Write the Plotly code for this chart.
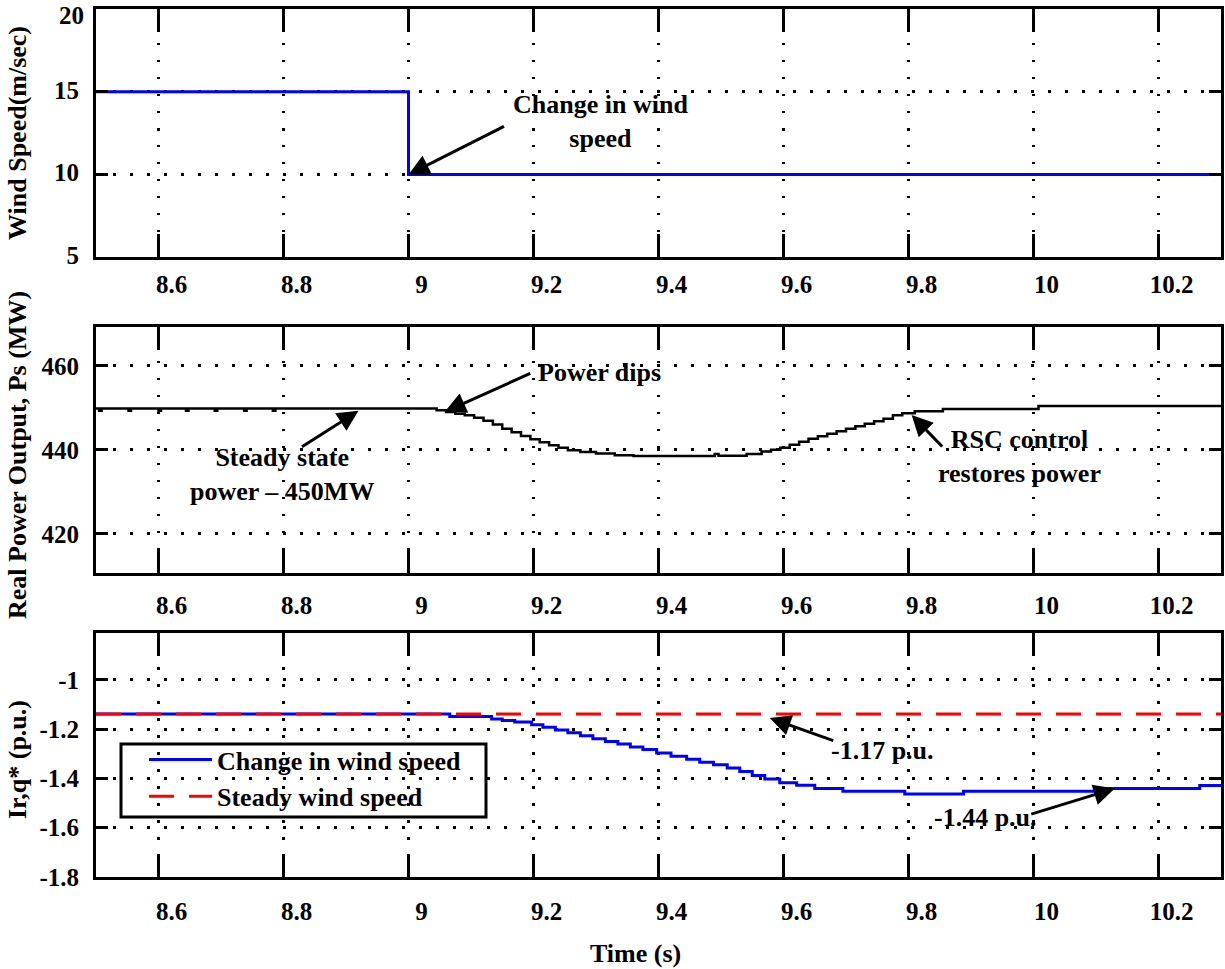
import plotly.graph_objects as go

# ---------------- data ----------------
wind_t = [8.5, 9.0, 9.0, 10.3]
wind_v = [15, 15, 10, 10]

power_t = [8.500, 8.505, 8.509, 8.549, 8.552, 8.556, 8.597, 8.600, 8.604, 8.641, 8.644, 8.648,
           8.687, 8.690, 8.694, 8.734, 8.737, 8.741, 8.780, 8.783, 8.787,
           9.045, 9.060, 9.075, 9.090, 9.105, 9.120, 9.135, 9.150, 9.165, 9.180, 9.195,
           9.210, 9.225, 9.240, 9.255, 9.275, 9.300, 9.330, 9.360, 9.490, 9.496,
           9.541, 9.565, 9.580, 9.595, 9.610, 9.625, 9.640, 9.655, 9.670, 9.685, 9.700,
           9.715, 9.730, 9.745, 9.760, 9.775, 9.790, 9.810, 9.855, 10.008, 10.300]
power_v = [449.8, 449.3, 449.8, 449.8, 449.3, 449.8, 449.8, 449.3, 449.8, 449.8, 449.3, 449.8,
           449.8, 449.3, 449.8, 449.8, 449.3, 449.8, 449.8, 449.3, 449.8,
           449.4, 449.0, 448.6, 448.2, 447.6, 446.9, 446.0, 445.0, 444.2, 443.3, 442.5,
           441.8, 441.1, 440.5, 439.9, 439.5, 439.1, 438.7, 438.5, 439.0, 438.6,
           439.0, 439.6, 440.0, 440.5, 441.2, 441.9, 442.6, 443.2, 443.8, 444.4, 445.0,
           445.6, 446.2, 446.8, 447.4, 448.2, 448.7, 449.2, 449.7, 450.4, 450.4]

irq_t = [8.500, 9.066, 9.133, 9.150, 9.170, 9.197, 9.215, 9.235, 9.255, 9.275, 9.295, 9.315,
         9.335, 9.355, 9.375, 9.397, 9.420, 9.445, 9.466, 9.488, 9.510, 9.530, 9.550,
         9.570, 9.594, 9.621, 9.650, 9.695, 9.794, 9.888, 10.111, 10.266, 10.300]
irq_change = [-1.138, -1.149, -1.159, -1.165, -1.171, -1.182, -1.192, -1.203, -1.215, -1.227,
              -1.239, -1.250, -1.260, -1.272, -1.283, -1.297, -1.310, -1.322, -1.334, -1.344,
              -1.358, -1.372, -1.388, -1.402, -1.418, -1.428, -1.441, -1.452, -1.463, -1.452,
              -1.441, -1.429, -1.429]
steady_t = [8.5, 10.3]
irq_steady = [-1.138, -1.138]

x_ticks = [8.6, 8.8, 9.0, 9.2, 9.4, 9.6, 9.8, 10.0, 10.2]
x_labels = ["8.6", "8.8", "9", "9.2", "9.4", "9.6", "9.8", "10", "10.2"]
y1_ticks = [5, 10, 15, 20]
y1_labels = ["5", "10", "15", "20"]
y2_ticks = [420, 440, 460]
y2_labels = ["420", "440", "460"]
y3_ticks = [-1.8, -1.6, -1.4, -1.2, -1.0]
y3_labels = ["-1.8", "-1.6", "-1.4", "-1.2", "-1"]

# ---------------- layout helpers ----------------
W, H = 1225, 969
ML, MR, MT, MB = 96, 4, 9, 92
PW, PH = W - ML - MR, H - MT - MB


def px(x):
    return (x - ML) / PW


def py(y):
    return (H - MB - y) / PH


FONT = "Liberation Serif"
TF = dict(family=FONT, size=25, color="black", weight="bold")
AF = dict(family=FONT, size=26, color="black", weight="bold")

fig = go.Figure()
fig.add_trace(go.Scatter(x=wind_t, y=wind_v, mode="lines", line=dict(color="#0000FF", width=3),
                         xaxis="x", yaxis="y", showlegend=False))
fig.add_trace(go.Scatter(x=power_t, y=power_v, mode="lines", line=dict(color="black", width=2.5, shape="hv"),
                         xaxis="x2", yaxis="y2", showlegend=False))
fig.add_trace(go.Scatter(x=irq_t, y=irq_change, mode="lines", name="Change in wind speed",
                         line=dict(color="#0000FF", width=3, shape="hv"), xaxis="x3", yaxis="y3"))
fig.add_trace(go.Scatter(x=steady_t, y=irq_steady, mode="lines", name="Steady wind speed",
                         line=dict(color="#FF0000", width=3, dash="25px,15px"), xaxis="x3", yaxis="y3"))


def xax(anchor, standoff):
    return dict(anchor=anchor, range=[8.5, 10.3], tickvals=x_ticks, ticktext=x_labels,
                ticks="inside", ticklen=23, tickwidth=3, tickcolor="black",
                showline=True, linewidth=3, linecolor="black", mirror="ticks",
                showgrid=True, gridcolor="black", gridwidth=2.5, griddash="2.5px,14.5px",
                zeroline=False, tickfont=TF, ticklabelshift=13, ticklabelstandoff=standoff,
                ticklabeloverflow="allow", automargin=False)


def yax(anchor, dom, rng, tv, tt, shift=0):
    return dict(anchor=anchor, domain=dom, range=rng, tickvals=tv, ticktext=tt,
                ticks="inside", ticklen=12, tickwidth=3, tickcolor="black",
                showline=True, linewidth=3, linecolor="black", mirror="ticks",
                showgrid=True, gridcolor="black", gridwidth=2.5, griddash="2.5px,14.5px",
                zeroline=False, tickfont=TF, ticklabelstandoff=9, ticklabeloverflow="allow",
                ticklabelshift=shift, automargin=False)


annotations = []
# y-axis titles
for txt, yc in [("Wind Speed(m/sec)", 133), ("Real Power Output, Ps (MW)", 455), ("Ir,q* (p.u.)", 760)]:
    annotations.append(dict(text=txt, xref="paper", yref="paper", x=px(17), y=py(yc), textangle=-90,
                            showarrow=False, font=AF, xanchor="center", yanchor="middle"))
annotations.append(dict(text="Time (s)", xref="paper", yref="paper", x=px(635), y=py(953),
                        showarrow=False, font=AF, xanchor="center", yanchor="middle"))

# top tick label of the upper panel, kept inside the page
annotations.append(dict(text=y1_labels[-1], xref="paper", yref="paper", x=0, y=py(0), xshift=-10,
                        xanchor="right", yanchor="top", showarrow=False, font=TF))

# text annotations
for txt, xc, yc in [("Change in wind<br>speed", 600, 122),
                    ("Power dips", 599, 373),
                    ("Steady state<br>power – 450MW", 282, 474),
                    ("RSC control<br>restores power", 1019, 456),
                    ("-1.17 p.u.", 882, 750),
                    ("-1.44 p.u.", 985, 817)]:
    annotations.append(dict(text=txt, xref="paper", yref="paper", x=px(xc), y=py(yc),
                            showarrow=False, font=AF, xanchor="center", yanchor="middle"))

# arrows (head in data coords, tail as pixel offsets)
for xr, yr, hx, hy, ax, ay in [("x", "y", 9.0, 10.0, 97, -49),
                               ("x2", "y2", 9.058, 449.05, 87, -39),
                               ("x2", "y2", 8.92, 449.3, -58, 37),
                               ("x2", "y2", 9.805, 448.3, 32, 33),
                               ("x3", "y3", 9.578, -1.155, 65, 23),
                               ("x3", "y3", 10.13, -1.441, -85, 26)]:
    annotations.append(dict(text="", xref=xr, yref=yr, x=hx, y=hy, ax=ax, ay=ay,
                            showarrow=True, arrowhead=2, arrowsize=1.4, arrowwidth=3,
                            arrowcolor="black"))

# legend frame
shapes = [dict(type="rect", xref="paper", yref="paper", x0=px(121), x1=px(486), y0=py(817), y1=py(744),
               line=dict(color="black", width=3), fillcolor="rgba(0,0,0,0)")]

y1_text = y1_labels[:-1] + [""]

fig.update_layout(
    width=W, height=H,
    margin=dict(l=ML, r=MR, t=MT, b=MB, autoexpand=False),
    paper_bgcolor="white", plot_bgcolor="white",
    font=dict(family=FONT, color="black"),
    xaxis=xax("y", 3), xaxis2=xax("y2", 8), xaxis3=xax("y3", 10),
    yaxis=yax("x", [py(257.3), 1.0], [5, 20], y1_ticks, y1_text, shift=-2),
    yaxis2=yax("x2", [py(573.3), py(326.7)], [410.6, 469.3], y2_ticks, y2_labels),
    yaxis3=yax("x3", [0.0, py(633.3)], [-1.8, -0.811], y3_ticks, y3_labels),
    legend=dict(x=px(144), y=py(736), xanchor="left", yanchor="top",
                bgcolor="rgba(0,0,0,0)", borderwidth=0,
                font=dict(family=FONT, size=26, color="black", weight="bold"),
                itemwidth=63, tracegroupgap=0),
    annotations=annotations,
    shapes=shapes,
    showlegend=True,
)

fig.write_html("out.html", config={"displayModeBar": False},
               post_script="document.body.style.margin='0px';document.body.style.padding='0px';")
